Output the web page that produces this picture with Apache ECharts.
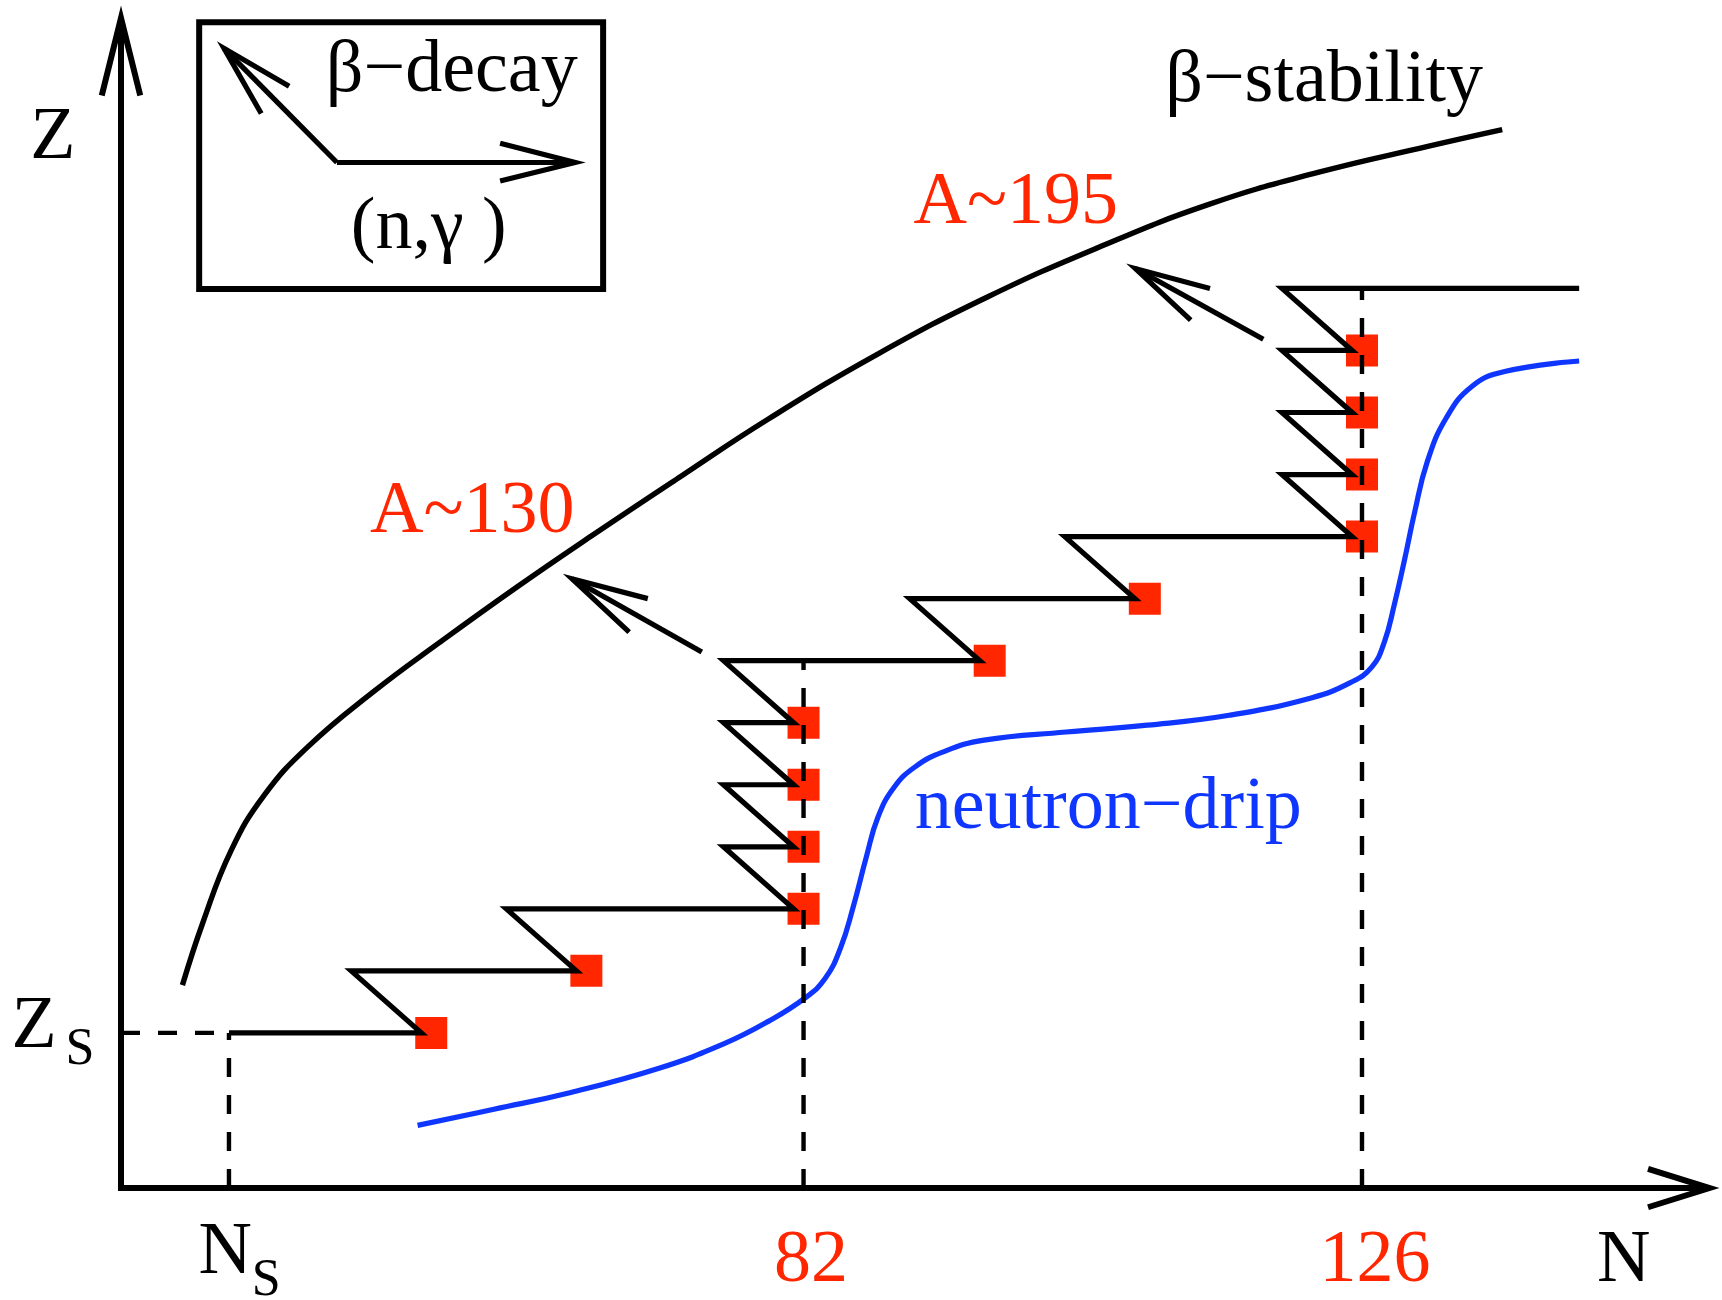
<!DOCTYPE html>
<html><head><meta charset="utf-8">
<script src="https://cdn.jsdelivr.net/npm/echarts@6/dist/echarts.min.js"></script>
<style>html,body{margin:0;padding:0;background:#fff}#c{width:1722px;height:1300px}</style>
</head><body><div id="c"></div>
<script>
// Schematic N–Z plane; units are "steps" of the r-process path (x: N, y: Z)
const viewMinN = -1.950, viewMaxN = 25.802, viewMinZ = -1.805, viewMaxZ = 19.149;
const axisMaxN = 25.60, axisMaxZ = 18.86;

const betaStability = [[0.99,3.27],[1.32,4.28],[1.77,5.43],[2.30,6.32],[3.01,7.11],[4.07,8.00],[5.13,8.79],[6.37,9.68],[7.61,10.53],[9.02,11.47],[10.44,12.40],[12.21,13.45],[13.98,14.37],[15.75,15.16],[17.52,15.85],[19.29,16.37],[21.06,16.79],[22.26,17.06]];

const neutronDrip = [[4.78,1.01],[6.01,1.27],[7.25,1.54],[8.67,1.93],[9.73,2.33],[10.44,2.69],[11.02,3.06],[11.35,3.38],[11.60,3.88],[11.80,4.53],[12.01,5.33],[12.20,5.98],[12.46,6.46],[12.80,6.79],[13.25,7.03],[13.91,7.22],[15.23,7.35],[16.54,7.46],[17.86,7.62],[19.18,7.90],[19.82,8.15],[20.16,8.40],[20.36,8.80],[20.52,9.40],[20.68,10.10],[20.85,10.90],[21.05,11.70],[21.35,12.40],[21.77,12.92],[22.30,13.16],[23.50,13.33]];

const rPath = [[1.74,2.5],[4.84,2.5],[3.71,3.5],[7.34,3.5],[6.21,4.5],[10.84,4.5],[9.71,5.5],[10.84,5.5],[9.71,6.5],[10.84,6.5],[9.71,7.5],[10.84,7.5],[9.71,8.5],[13.84,8.5],[12.71,9.5],[16.34,9.5],[15.21,10.5],[19.84,10.5],[18.71,11.5],[19.84,11.5],[18.71,12.5],[19.84,12.5],[18.71,13.5],[19.84,13.5],[18.71,14.5],[23.50,14.5]];

const waitingPoints = [[5.0,2.5],[7.5,3.5],[11.0,4.5],[11.0,5.5],[11.0,6.5],[11.0,7.5],[14.0,8.5],[16.5,9.5],[20.0,10.5],[20.0,11.5],[20.0,12.5],[20.0,13.5]];

const magicN = [11.0, 20.0];
const magicTopZ = [8.5, 14.5];
const magicLabels = ['82', '126'];
const magicLabelPos = [[11.12,-1.18],[20.21,-1.18]];
const seedPoint = [1.74, 2.5];

const decayArrowShafts = [[[9.36,8.64],[7.27,9.82]], [[18.41,13.68],[16.35,14.82]]];
const decayArrowHeads = [[[8.49,9.50],[7.27,9.82],[8.19,8.96]], [[17.55,14.50],[16.35,14.82],[17.24,13.99]]];

const legendBox = [[1.26,14.49],[7.77,14.49],[7.77,18.79],[1.26,18.79],[1.26,14.49]];
const legendNgShaft = [[3.48,16.53],[7.32,16.53]];
const legendNgHead = [[6.11,16.84],[7.32,16.53],[6.11,16.23]];
const legendBetaShaft = [[3.48,16.53],[1.66,18.37]];
const legendBetaHead = [[2.71,17.76],[1.66,18.37],[2.26,17.32]];

const axisLines = [[0,axisMaxZ],[0,0],[axisMaxN,0]];
const xArrowHead = [[24.61,0.31],[axisMaxN,0],[24.61,-0.31]];
const yArrowHead = [[-0.31,17.61],[0,axisMaxZ],[0.31,17.61]];

const texts = ['Z','Z','S','N','S','N','β−stability','A~195','A~130','neutron−drip','β−decay','(n,γ )'];
const textPos = [[-1.10,16.92],[-1.40,2.59],[-0.66,2.22],[1.68,-1.05],[2.34,-1.50],[24.22,-1.18],[19.39,17.84],[14.42,15.87],[5.66,10.88],[15.91,6.11],[5.33,18.0],[4.96,15.47]];
const textKind = ['b','b','bs','b','bs','b','b','r','r','blue','b','b'];

const RED = '#ff2600', BLUE = '#0f36ff', BLACK = '#000';
const FONT = 'Liberation Serif';

function poly(data, color, width, z, dash, cap) {
  return { type: 'line', data: data, showSymbol: false, symbol: 'none', z: z || 3,
    silent: true, clip: false, animation: false,
    lineStyle: { color: color, width: width, type: dash || 'solid', join: 'miter', cap: cap || 'butt', miterLimit: 20 } };
}
function curve(data, color, width) {
  const s = poly(data, color, width, 3);
  s.smooth = 0.45;
  s.lineStyle.join = 'round';
  return s;
}

const series = [];
series.push(poly(axisLines, BLACK, 6, 4, 'solid', 'butt'));
series.push(poly(xArrowHead, BLACK, 6, 4));
series.push(poly(yArrowHead, BLACK, 6, 4));
series.push(curve(betaStability, BLACK, 5.4));
series.push(curve(neutronDrip, BLUE, 5.2));
// waiting points (red squares) under the lines
series.push({ type: 'scatter', data: waitingPoints, symbol: 'rect', symbolSize: 32, z: 2, silent: true,
  animation: false, itemStyle: { color: RED, opacity: 1 } });
series.push(poly(rPath, BLACK, 5.2, 3));
magicN.forEach(function (n, i) {
  series.push(poly([[n,0],[n,magicTopZ[i]]], BLACK, 4.4, 3, [19,18]));
});
series.push(poly([[0,seedPoint[1]],[seedPoint[0],seedPoint[1]]], BLACK, 4.4, 3, [19,18]));
series.push(poly([[seedPoint[0],0],[seedPoint[0],seedPoint[1]]], BLACK, 4.4, 3, [19,18]));
decayArrowShafts.forEach(function (d) { series.push(poly(d, BLACK, 5.2, 3)); });
decayArrowHeads.forEach(function (d) { series.push(poly(d, BLACK, 5.2, 3)); });
series.push(poly(legendBox, BLACK, 6, 3, 'solid', 'square'));
series.push(poly(legendNgShaft, BLACK, 5.2, 3));
series.push(poly(legendNgHead, BLACK, 5.2, 3));
series.push(poly(legendBetaShaft, BLACK, 5.2, 3));
series.push(poly(legendBetaHead, BLACK, 5.2, 3));

const labelData = [];
texts.forEach(function (t, i) {
  const k = textKind[i];
  labelData.push({ value: textPos[i], label: { formatter: t,
    color: k === 'r' ? RED : (k === 'blue' ? BLUE : BLACK),
    fontSize: k === 'bs' ? 52 : 74 } });
});
magicLabels.forEach(function (t, i) {
  labelData.push({ value: magicLabelPos[i], label: { formatter: t, color: RED, fontSize: 74 } });
});
series.push({ type: 'scatter', data: labelData, symbolSize: 1, z: 5, silent: true, clip: false,
  animation: false, itemStyle: { color: 'rgba(0,0,0,0)', opacity: 1 },
  label: { show: true, position: 'inside', align: 'center', verticalAlign: 'middle',
    fontFamily: FONT, fontWeight: 'normal', opacity: 1, textBorderWidth: 0 } });

const chart = echarts.init(document.getElementById('c'), null, { renderer: 'canvas' });
chart.setOption({
  backgroundColor: '#fff',
  animation: false,
  grid: { left: 0, top: 0, right: 0, bottom: 0, containLabel: false },
  xAxis: { type: 'value', min: viewMinN, max: viewMaxN, show: false },
  yAxis: { type: 'value', min: viewMinZ, max: viewMaxZ, show: false },
  series: series
});
</script></body></html>
